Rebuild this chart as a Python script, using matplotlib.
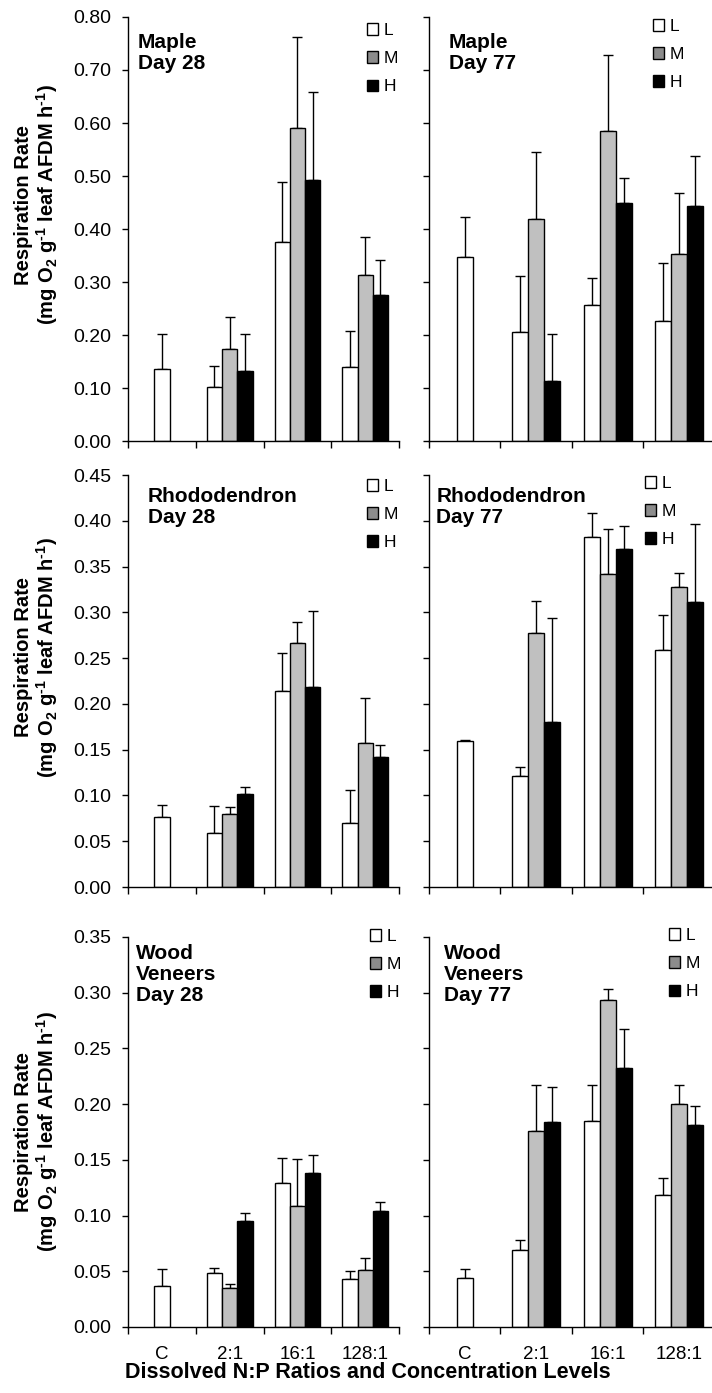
import matplotlib
matplotlib.use("Agg")
import matplotlib.pyplot as plt
import numpy as np
from matplotlib.patches import Patch

plt.rcParams["font.family"] = ["Liberation Sans", "DejaVu Sans"]
plt.rcParams["mathtext.fontset"] = "custom"
plt.rcParams["mathtext.rm"] = "Liberation Sans:bold"
plt.rcParams["mathtext.bf"] = "Liberation Sans:bold"
plt.rcParams["mathtext.it"] = "Liberation Sans:bold"

categories = ["C", "2:1", "16:1", "128:1"]
levels = ["L", "M", "H"]

# values per treatment: C (L only), 2:1, 16:1, 128:1
maple28_L = [0.135, 0.101, 0.375, 0.140]
maple28_M = [np.nan, 0.174, 0.590, 0.313]
maple28_H = [np.nan, 0.133, 0.492, 0.275]
maple28_L_err = [0.067, 0.041, 0.114, 0.068]
maple28_M_err = [np.nan, 0.060, 0.172, 0.071]
maple28_H_err = [np.nan, 0.069, 0.166, 0.066]

maple77_L = [0.348, 0.206, 0.257, 0.226]
maple77_M = [np.nan, 0.419, 0.584, 0.353]
maple77_H = [np.nan, 0.114, 0.449, 0.443]
maple77_L_err = [0.074, 0.106, 0.050, 0.109]
maple77_M_err = [np.nan, 0.127, 0.144, 0.114]
maple77_H_err = [np.nan, 0.087, 0.047, 0.095]

rhodo28_L = [0.077, 0.059, 0.214, 0.070]
rhodo28_M = [np.nan, 0.080, 0.267, 0.157]
rhodo28_H = [np.nan, 0.102, 0.219, 0.142]
rhodo28_L_err = [0.013, 0.030, 0.042, 0.036]
rhodo28_M_err = [np.nan, 0.007, 0.022, 0.049]
rhodo28_H_err = [np.nan, 0.007, 0.082, 0.013]

rhodo77_L = [0.159, 0.121, 0.382, 0.259]
rhodo77_M = [np.nan, 0.277, 0.342, 0.328]
rhodo77_H = [np.nan, 0.180, 0.369, 0.311]
rhodo77_L_err = [0.002, 0.010, 0.027, 0.038]
rhodo77_M_err = [np.nan, 0.035, 0.049, 0.015]
rhodo77_H_err = [np.nan, 0.114, 0.025, 0.086]

wood28_L = [0.037, 0.048, 0.129, 0.043]
wood28_M = [np.nan, 0.035, 0.109, 0.051]
wood28_H = [np.nan, 0.095, 0.138, 0.104]
wood28_L_err = [0.015, 0.005, 0.023, 0.007]
wood28_M_err = [np.nan, 0.004, 0.042, 0.011]
wood28_H_err = [np.nan, 0.007, 0.016, 0.008]

wood77_L = [0.044, 0.069, 0.185, 0.118]
wood77_M = [np.nan, 0.176, 0.293, 0.200]
wood77_H = [np.nan, 0.184, 0.232, 0.181]
wood77_L_err = [0.008, 0.009, 0.032, 0.016]
wood77_M_err = [np.nan, 0.041, 0.010, 0.017]
wood77_H_err = [np.nan, 0.031, 0.035, 0.017]

bar_colors = ["white", "#c0c0c0", "black"]
legend_colors = ["white", "#8c8c8c", "black"]

ylabel = "Respiration Rate\n(mg O$_\\mathbf{2}$ g$^{\\text{-}\\mathbf{1}}$ leaf AFDM h$^{\\text{-}\\mathbf{1}}$)"

fig = plt.figure(figsize=(7.12, 13.93), dpi=100)

# bottom, height, ymax, ystep, ylabel centre (axes fraction)
rows = [
    (0.6834, 0.3044, 0.80, 0.10, 0.557),
    (0.3632, 0.2958, 0.45, 0.05, 0.558),
    (0.0474, 0.2800, 0.35, 0.05, 0.500),
]
cols = [(0.1798, 0.3806), (0.6025, 0.4017)]

panels = [
    ("Maple\nDay 28", (maple28_L, maple28_M, maple28_H), (maple28_L_err, maple28_M_err, maple28_H_err), (0.037, 0.962), (0.882, 0.985)),
    ("Maple\nDay 77", (maple77_L, maple77_M, maple77_H), (maple77_L_err, maple77_M_err, maple77_H_err), (0.070, 0.962), (0.783, 0.995)),
    ("Rhododendron\nDay 28", (rhodo28_L, rhodo28_M, rhodo28_H), (rhodo28_L_err, rhodo28_M_err, rhodo28_H_err), (0.074, 0.972), (0.882, 0.990)),
    ("Rhododendron\nDay 77", (rhodo77_L, rhodo77_M, rhodo77_H), (rhodo77_L_err, rhodo77_M_err, rhodo77_H_err), (0.025, 0.972), (0.755, 0.997)),
    ("Wood\nVeneers\nDay 28", (wood28_L, wood28_M, wood28_H), (wood28_L_err, wood28_M_err, wood28_H_err), (0.030, 0.982), (0.893, 1.020)),
    ("Wood\nVeneers\nDay 77", (wood77_L, wood77_M, wood77_H), (wood77_L_err, wood77_M_err, wood77_H_err), (0.052, 0.982), (0.839, 1.022)),
]

w = 0.225
x = np.arange(len(categories)) + 0.5

for i, (title, vals, errs, tpos, lpos) in enumerate(panels):
    r, c = divmod(i, 2)
    bottom, height, ymax, ystep, ylab_y = rows[r]
    left, width = cols[c]
    ax = fig.add_axes([left, bottom, width, height])

    for j in range(3):
        v = np.array(vals[j], dtype=float)
        e = np.array(errs[j], dtype=float)
        pos = x + (j - 1) * w
        pos[0] = x[0]  # control only has the single L bar, centred
        ax.bar(pos, v, w, color=bar_colors[j], edgecolor="black", linewidth=1, zorder=2)
        ax.errorbar(pos, v, yerr=[np.zeros_like(e), e], fmt="none", ecolor="black",
                    elinewidth=1, capsize=3.5, capthick=1, zorder=1)

    ax.set_xlim(0, 4)
    ax.set_ylim(0, ymax)
    ax.set_yticks(np.arange(0, ymax + ystep / 2, ystep))
    if c == 0:
        ax.set_yticklabels(["%.2f" % t for t in ax.get_yticks()], fontsize=14)
        ax.set_ylabel(ylabel, fontsize=14.5, fontweight="bold", linespacing=1.05)
        ax.yaxis.set_label_coords(-0.25, ylab_y)
    else:
        ax.set_yticklabels([])

    ax.set_xticks(np.arange(0, 5))
    ax.set_xticklabels([])
    ax.set_xticks(x, minor=True)
    if r == 2:
        ax.set_xticklabels(categories, minor=True, fontsize=13.5)
    ax.tick_params(axis="x", which="minor", length=0, pad=14)
    ax.tick_params(axis="x", which="major", direction="out", length=5, width=1)
    ax.tick_params(axis="y", direction="out", length=4, width=1, pad=8)

    for s in ["top", "right"]:
        ax.spines[s].set_visible(False)
    for s in ["left", "bottom"]:
        ax.spines[s].set_linewidth(1)

    ax.text(tpos[0], tpos[1], title, transform=ax.transAxes, ha="left", va="top",
            fontsize=15, fontweight="bold", linespacing=1.15)

    handles = [Patch(facecolor=legend_colors[k], edgecolor="black", linewidth=1) for k in range(3)]
    ax.legend(handles, levels, loc="upper left", bbox_to_anchor=lpos, frameon=False,
              fontsize=12.5, handlelength=0.65, handleheight=0.65, handletextpad=0.3,
              labelspacing=0.75, borderpad=0, borderaxespad=0)

fig.text(0.517, 0.0144, "Dissolved N:P Ratios and Concentration Levels", ha="center",
         va="center", fontsize=15.5, fontweight="bold")

fig.savefig("out.png", dpi=100)
